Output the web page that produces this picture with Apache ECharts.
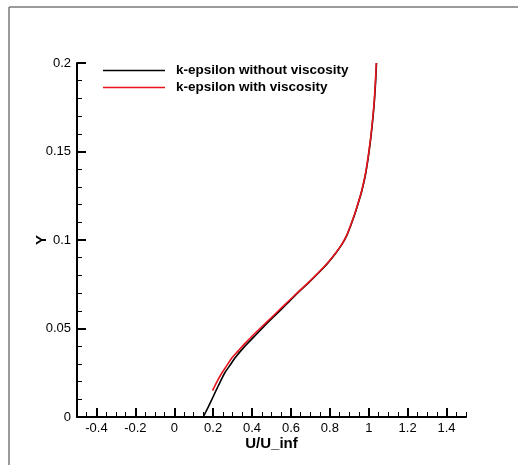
<!DOCTYPE html>
<html>
<head>
<meta charset="utf-8">
<script src="https://cdn.jsdelivr.net/npm/echarts@6/dist/echarts.min.js"></script>
<style>
  html, body { margin: 0; padding: 0; background: #fff; }
  #chart { width: 518px; height: 465px; }
</style>
</head>
<body>
<div id="chart"></div>
<script>
// Velocity profiles U/U_inf versus wall distance Y
var seriesNames = ['k-epsilon without viscosity', 'k-epsilon with viscosity'];

var noViscU = [0.149, 0.172, 0.192, 0.215, 0.237, 0.26, 0.285, 0.31, 0.343, 0.377, 0.42, 0.46, 0.507, 0.55, 0.593, 0.64, 0.69, 0.74, 0.79, 0.83, 0.862, 0.885, 0.905, 0.925, 0.945, 0.965, 0.985, 1.003, 1.017, 1.028, 1.035, 1.04];
var noViscY = [0.0, 0.005, 0.0096, 0.015, 0.02, 0.025, 0.029, 0.033, 0.0375, 0.0416, 0.0465, 0.051, 0.0562, 0.0608, 0.0655, 0.0707, 0.0758, 0.0812, 0.087, 0.0925, 0.0975, 0.102, 0.1075, 0.1135, 0.1205, 0.128, 0.138, 0.151, 0.164, 0.177, 0.189, 0.2];

var viscU = [0.197, 0.22, 0.244, 0.27, 0.295, 0.33, 0.364, 0.405, 0.45, 0.5, 0.545, 0.59, 0.638, 0.688, 0.738, 0.788, 0.829, 0.861, 0.884, 0.904, 0.924, 0.944, 0.964, 0.984, 1.002, 1.016, 1.027, 1.034, 1.039];
var viscY = [0.0149, 0.02, 0.0247, 0.029, 0.0332, 0.0375, 0.0416, 0.0462, 0.051, 0.0562, 0.061, 0.0657, 0.0707, 0.0758, 0.0812, 0.087, 0.0925, 0.0975, 0.102, 0.1075, 0.1135, 0.1205, 0.128, 0.138, 0.151, 0.164, 0.177, 0.189, 0.2];

var xMajorTicks = [-0.4, -0.2, 0, 0.2, 0.4, 0.6, 0.8, 1, 1.2, 1.4];
var yMajorTicks = [0, 0.05, 0.1, 0.15, 0.2];

function pairs(xs, ys) {
  return xs.map(function (x, i) { return [x, ys[i]]; });
}

var fontFamily = 'Liberation Sans, Arial, sans-serif';
var nameFont = { color: '#000', fontFamily: fontFamily, fontSize: 15, fontWeight: 'bold' };
var axisStroke = { show: true, onZero: false, lineStyle: { color: '#000', width: 2 } };
var hiddenLine = { show: false, onZero: false };

var chart = echarts.init(document.getElementById('chart'), null, { renderer: 'canvas' });
chart.setOption({
  backgroundColor: '#fff',
  animation: false,
  graphic: [
    { type: 'line', shape: { x1: 9, y1: 7, x2: 9, y2: 465 }, style: { stroke: '#7a7a7a', lineWidth: 1.5 } },
    { type: 'line', shape: { x1: 9, y1: 7, x2: 518, y2: 7 }, style: { stroke: '#7a7a7a', lineWidth: 1.5 } }
  ],
  grid: { left: 77, right: 52, top: 63, bottom: 48 },
  legend: {
    orient: 'vertical',
    left: 103,
    top: 63,
    padding: 0,
    icon: 'rect',
    itemWidth: 62,
    itemHeight: 1.5,
    itemGap: 2,
    data: seriesNames,
    textStyle: { color: '#000', fontFamily: fontFamily, fontSize: 13.5, fontWeight: 'bold', lineHeight: 15, padding: [0, 0, 0, 6] }
  },
  xAxis: [
    {
      type: 'value', min: -0.5, max: 1.5, interval: 0.05,
      name: 'U/U_inf', nameLocation: 'middle', nameGap: 19, nameMoveOverlap: false, nameTextStyle: nameFont,
      axisLine: axisStroke,
      axisTick: { show: true, inside: true, length: 5, lineStyle: { color: '#000', width: 1 } },
      axisLabel: { customValues: xMajorTicks, margin: 5, color: '#000', fontFamily: fontFamily, fontSize: 13 },
      splitLine: { show: false }
    },
    {
      type: 'value', min: -0.5, max: 1.5, position: 'bottom',
      axisLine: hiddenLine,
      axisTick: { show: true, inside: true, length: 9, customValues: xMajorTicks, lineStyle: { color: '#000', width: 2 } },
      axisLabel: { show: false },
      splitLine: { show: false }
    }
  ],
  yAxis: [
    {
      type: 'value', min: 0, max: 0.2, interval: 0.01,
      name: 'Y', nameLocation: 'middle', nameGap: 28, nameMoveOverlap: false, nameRotate: 90, nameTextStyle: nameFont,
      axisLine: axisStroke,
      axisTick: { show: true, inside: true, length: 5, lineStyle: { color: '#000', width: 1 } },
      axisLabel: { customValues: yMajorTicks, margin: 6, color: '#000', fontFamily: fontFamily, fontSize: 13 },
      splitLine: { show: false }
    },
    {
      type: 'value', min: 0, max: 0.2, position: 'left',
      axisLine: hiddenLine,
      axisTick: { show: true, inside: true, length: 9, customValues: yMajorTicks, lineStyle: { color: '#000', width: 2 } },
      axisLabel: { show: false },
      splitLine: { show: false }
    }
  ],
  series: [
    {
      name: seriesNames[0], type: 'line', xAxisIndex: 0, yAxisIndex: 0,
      data: pairs(noViscU, noViscY), smooth: 0.3, symbol: 'none',
      lineStyle: { color: '#000', width: 1.6 }, itemStyle: { color: '#000' }
    },
    {
      name: seriesNames[1], type: 'line', xAxisIndex: 0, yAxisIndex: 0,
      data: pairs(viscU, viscY), smooth: 0.3, symbol: 'none',
      lineStyle: { color: '#e8141c', width: 1.6 }, itemStyle: { color: '#e8141c' }
    }
  ]
});
</script>
</body>
</html>
